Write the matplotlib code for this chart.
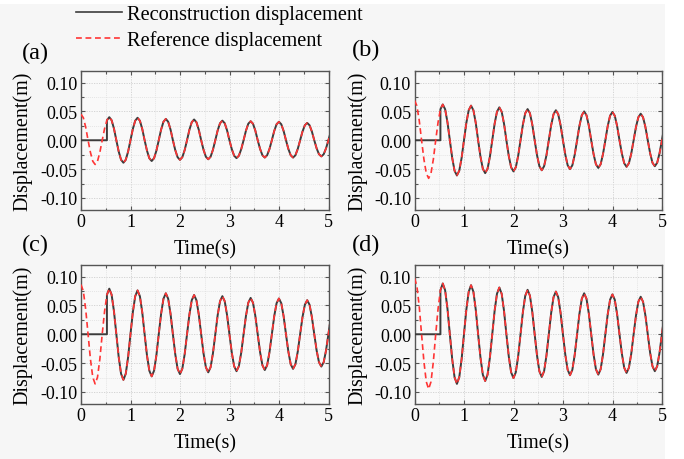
import numpy as np
import matplotlib
matplotlib.use("Agg")
import matplotlib.pyplot as plt
from matplotlib.ticker import MultipleLocator, FormatStrFormatter
from matplotlib.lines import Line2D
from matplotlib.patches import Rectangle

plt.rcParams['font.family'] = ['Liberation Serif', 'DejaVu Serif']
plt.rcParams['axes.unicode_minus'] = False

# ---------------- data ----------------
panel_labels = ['(a)', '(b)', '(c)', '(d)']
legend_labels = ['Reconstruction displacement', 'Reference displacement']
x_label = 'Time(s)'
y_label = 'Displacement(m)'

# sampling instants of the displacement records (s)
time = np.arange(107) * 0.0476
onset_index = 11   # reconstruction starts here (~0.52 s)

ref_a = [0.045, 0.039, 0.0225, 0, -0.021, -0.0364,
         -0.042, -0.0364, -0.021, 0, 0.020, 0.0346,
         0.040, 0.0346, 0.020, 0, -0.0195, -0.0338,
         -0.039, -0.0338, -0.0195, 0, 0.0195, 0.0338,
         0.039, 0.0338, 0.0195, 0, -0.018, -0.0312,
         -0.036, -0.0312, -0.018, 0, 0.0185, 0.032,
         0.037, 0.032, 0.0185, 0, -0.017, -0.0294,
         -0.034, -0.0294, -0.017, 0, 0.018, 0.0312,
         0.036, 0.0312, 0.018, 0, -0.0165, -0.0286,
         -0.033, -0.0286, -0.0165, 0, 0.017, 0.0294,
         0.034, 0.0294, 0.017, 0, -0.0155, -0.0268,
         -0.031, -0.0268, -0.0155, 0, 0.0165, 0.0286,
         0.033, 0.0286, 0.0165, 0, -0.015, -0.026,
         -0.030, -0.026, -0.015, 0, 0.016, 0.0277,
         0.032, 0.0277, 0.016, 0, -0.015, -0.026,
         -0.030, -0.026, -0.015, 0, 0.015, 0.026,
         0.030, 0.026, 0.015, 0, -0.014, -0.0242,
         -0.028, -0.0242, -0.014, 0, 0.0145]

ref_b = [0.069, 0.0598, 0.0345, 0, -0.033, -0.0572,
         -0.066, -0.0572, -0.033, 0, 0.031, 0.0537,
         0.062, 0.0537, 0.031, 0, -0.0305, -0.0528,
         -0.061, -0.0528, -0.0305, 0, 0.030, 0.052,
         0.060, 0.052, 0.030, 0, -0.0285, -0.0494,
         -0.057, -0.0494, -0.0285, 0, 0.0285, 0.0494,
         0.057, 0.0494, 0.0285, 0, -0.027, -0.0468,
         -0.054, -0.0468, -0.027, 0, 0.027, 0.0468,
         0.054, 0.0468, 0.027, 0, -0.026, -0.045,
         -0.052, -0.045, -0.026, 0, 0.026, 0.045,
         0.052, 0.045, 0.026, 0, -0.025, -0.0433,
         -0.050, -0.0433, -0.025, 0, 0.025, 0.0433,
         0.050, 0.0433, 0.025, 0, -0.024, -0.0416,
         -0.048, -0.0416, -0.024, 0, 0.0245, 0.0424,
         0.049, 0.0424, 0.0245, 0, -0.023, -0.0398,
         -0.046, -0.0398, -0.023, 0, 0.023, 0.0398,
         0.046, 0.0398, 0.023, 0, -0.0225, -0.039,
         -0.045, -0.039, -0.0225, 0, 0.0225]

ref_c = [0.086, 0.0745, 0.043, 0, -0.043, -0.0745,
         -0.086, -0.0745, -0.043, 0, 0.0395, 0.0684,
         0.079, 0.0684, 0.0395, 0, -0.0395, -0.0684,
         -0.079, -0.0684, -0.0395, 0, 0.038, 0.0658,
         0.076, 0.0658, 0.038, 0, -0.0365, -0.0632,
         -0.073, -0.0632, -0.0365, 0, 0.0355, 0.0615,
         0.071, 0.0615, 0.0355, 0, -0.0345, -0.0598,
         -0.069, -0.0598, -0.0345, 0, 0.034, 0.0589,
         0.068, 0.0589, 0.034, 0, -0.033, -0.0572,
         -0.066, -0.0572, -0.033, 0, 0.033, 0.0572,
         0.066, 0.0572, 0.033, 0, -0.032, -0.0554,
         -0.064, -0.0554, -0.032, 0, 0.0315, 0.0546,
         0.063, 0.0546, 0.0315, 0, -0.031, -0.0537,
         -0.062, -0.0537, -0.031, 0, 0.031, 0.0537,
         0.062, 0.0537, 0.031, 0, -0.030, -0.052,
         -0.060, -0.052, -0.030, 0, 0.0295, 0.0511,
         0.059, 0.0511, 0.0295, 0, -0.028, -0.0485,
         -0.056, -0.0485, -0.028, 0, 0.0285]

ref_d = [0.097, 0.084, 0.0485, 0, -0.0475, -0.0823,
         -0.095, -0.0823, -0.0475, 0, 0.044, 0.0762,
         0.088, 0.0762, 0.044, 0, -0.043, -0.0745,
         -0.086, -0.0745, -0.043, 0, 0.0425, 0.0736,
         0.085, 0.0736, 0.0425, 0, -0.0405, -0.0701,
         -0.081, -0.0701, -0.0405, 0, 0.0405, 0.0701,
         0.081, 0.0701, 0.0405, 0, -0.038, -0.0658,
         -0.076, -0.0658, -0.038, 0, 0.0385, 0.0667,
         0.077, 0.0667, 0.0385, 0, -0.037, -0.0641,
         -0.074, -0.0641, -0.037, 0, 0.037, 0.0641,
         0.074, 0.0641, 0.037, 0, -0.0355, -0.0615,
         -0.071, -0.0615, -0.0355, 0, 0.0355, 0.0615,
         0.071, 0.0615, 0.0355, 0, -0.035, -0.0606,
         -0.070, -0.0606, -0.035, 0, 0.0345, 0.0598,
         0.069, 0.0598, 0.0345, 0, -0.0335, -0.058,
         -0.067, -0.058, -0.0335, 0, 0.0325, 0.0563,
         0.065, 0.0563, 0.0325, 0, -0.032, -0.0554,
         -0.064, -0.0554, -0.032, 0, 0.0315]

references = [ref_a, ref_b, ref_c, ref_d]

x_ticks = [0, 1, 2, 3, 4, 5]
y_ticks = [-0.10, -0.05, 0.00, 0.05, 0.10]

# ---------------- styling ----------------
W, H = 684, 460
fig = plt.figure(figsize=(W / 100, H / 100), dpi=100, facecolor='white')
fig.patches.append(Rectangle((0, 0), 665 / W, 455 / H, transform=fig.transFigure,
                             facecolor='#f6f6f6', edgecolor='none', zorder=-10))

recon_color = '#3c3c3c'
ref_color = '#ff3535'
spine_color = '#555555'

axes_px = [(81, 72), (414.5, 72), (81, 266), (414.5, 266)]   # left, top in px
ax_w, ax_h = 247.5, 138.5
ylabel_x = [-0.198, -0.19, -0.198, -0.19]
label_pos = [(22, 53), (352, 50), (22, 245), (352, 245)]

for i, ref in enumerate(references):
    left, top = axes_px[i]
    ax = fig.add_axes([left / W, 1 - (top + ax_h) / H, ax_w / W, ax_h / H])
    ax.set_facecolor('#f9f9f9')

    ref_arr = np.asarray(ref)
    t_rec = np.concatenate([[0.0, time[onset_index]], time[onset_index:]])
    y_rec = np.concatenate([[0.0, 0.0], ref_arr[onset_index:]])

    ax.plot(t_rec, y_rec, color=recon_color, lw=1.4, zorder=3)
    ax.plot(time, ref_arr, color=ref_color, lw=1.2, dashes=(3.5, 2.2), zorder=4)

    ax.set_xlim(0, 5)
    ax.set_ylim(-0.12, 0.12)
    ax.set_xticks(x_ticks)
    ax.set_yticks(y_ticks)
    ax.xaxis.set_minor_locator(MultipleLocator(0.5))
    ax.yaxis.set_minor_locator(MultipleLocator(0.025))
    ax.yaxis.set_major_formatter(FormatStrFormatter('%.2f'))
    ax.tick_params(which='both', direction='in', top=True, right=True,
                   color=spine_color, width=0.8)
    ax.tick_params(which='major', length=3, labelsize=13, pad=2.5)
    ax.tick_params(which='minor', length=1.8)
    ax.grid(which='major', color='#cfcfcf', lw=0.6, ls=(0, (1.5, 1.5)), zorder=0)
    ax.grid(which='minor', color='#dedede', lw=0.5, ls=(0, (1.5, 1.5)), zorder=0)
    for s in ax.spines.values():
        s.set_color(spine_color)
        s.set_linewidth(1.0)

    ax.set_xlabel(x_label, fontsize=14.5)
    ax.set_ylabel(y_label, fontsize=14.5)
    ax.xaxis.set_label_coords(0.5, -0.215)
    ax.yaxis.set_label_coords(ylabel_x[i], 0.5)

    lx, ly = label_pos[i]
    fig.text(lx / W, 1 - ly / H, panel_labels[i], fontsize=17.5, va='center', ha='left')

handles = [Line2D([], [], color=recon_color, lw=1.2),
           Line2D([], [], color=ref_color, lw=1.2, dashes=(3.5, 2.2))]
fig.legend(handles, legend_labels, loc='upper left',
           bbox_to_anchor=(76 / W, 1 - 6 / H), frameon=False, fontsize=14.7,
           handlelength=2.25, handletextpad=0.27, labelspacing=0.3,
           borderpad=0, borderaxespad=0)

fig.savefig('out.png', dpi=100, facecolor=fig.get_facecolor())
